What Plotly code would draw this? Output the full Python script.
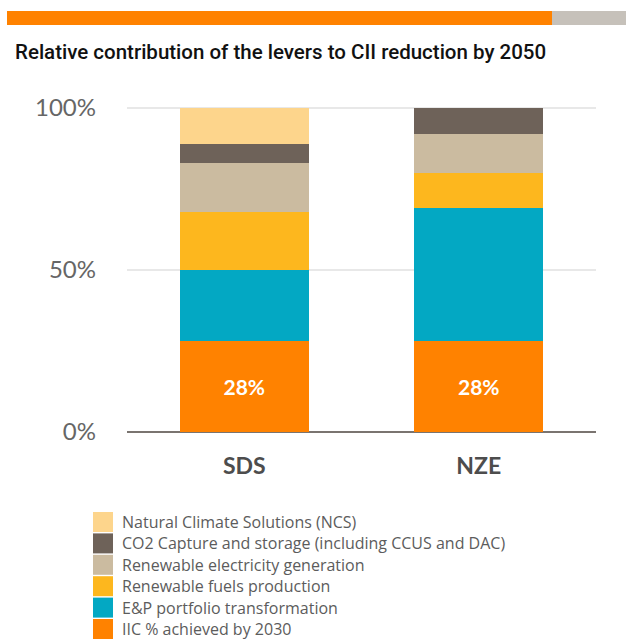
import plotly.graph_objects as go

W, H = 626, 641
categories = ["SDS", "NZE"]
series_names = [
    "IIC % achieved by 2030",
    "E&P portfolio transformation",
    "Renewable fuels production",
    "Renewable electricity generation",
    "CO2 Capture and storage (including CCUS and DAC)",
    "Natural Climate Solutions (NCS)",
]
series_values = [
    [28, 28],
    [22, 41],
    [18, 11],
    [15, 12],
    [6, 8],
    [11, 0],
]
series_colors = ["#FF8200", "#03A8C3", "#FDB71E", "#CBBBA0", "#6E6259", "#FDD58C"]
bar_labels = ["28%", "28%"]
y_tickvals = [0, 50, 100]
y_ticktext = ["0%", "50%", "100%"]

ML, MR, MT, MB = 127, 30, 106, 209
PW = W - ML - MR
PH = H - MT - MB


def px2x(x):
    return (x - ML) / PW


def px2y(y):
    return (H - MB - y) / PH


fig = go.Figure()
for i, (name, vals, col) in enumerate(zip(series_names, series_values, series_colors)):
    kw = {}
    if i == 0:
        kw = dict(text=bar_labels, textposition="inside", insidetextanchor="middle",
                  textangle=0,
                  textfont=dict(family="Lato, sans-serif", size=21, color="white", weight="bold"))
    fig.add_trace(go.Bar(x=categories, y=vals, name=name, marker=dict(color=col, line=dict(width=0)),
                         width=0.55, hoverinfo="skip", **kw))

shapes = []
annotations = []
# top decorative band
for x0, x1, col in [(7, 552, "#FF8200"), (552, 626, "#C6C1BA")]:
    shapes.append(dict(type="rect", xref="paper", yref="paper", x0=px2x(x0), x1=px2x(x1),
                       y0=px2y(25), y1=px2y(11), fillcolor=col, line=dict(width=0)))

# legend (top to bottom = reversed stacking order)
LEG_TOP, LEG_STEP, SQ = 512, 21.4, 20
for k, (name, col) in enumerate(zip(series_names[::-1], series_colors[::-1])):
    top = LEG_TOP + k * LEG_STEP
    shapes.append(dict(type="rect", xref="paper", yref="paper", x0=px2x(93), x1=px2x(93 + SQ),
                       y0=px2y(top + SQ), y1=px2y(top), fillcolor=col, line=dict(width=0)))
    annotations.append(dict(text=name, xref="paper", yref="paper", x=px2x(120), y=px2y(top + SQ / 2),
                            xanchor="left", yanchor="middle", showarrow=False,
                            font=dict(family="Open Sans, sans-serif", size=16, color="#5c5c5c")))

fig.update_layout(
    width=W, height=H,
    margin=dict(l=ML, r=MR, t=MT, b=MB, autoexpand=False),
    paper_bgcolor="white", plot_bgcolor="white",
    barmode="stack",
    showlegend=False,
    font=dict(family="Lato, sans-serif", color="#555"),
    title=dict(text="Relative contribution of the levers to CII reduction by 2050",
               x=15 / W, xanchor="left", xref="container", y=1 - 52 / H, yanchor="middle",
               yref="container",
               font=dict(family="Roboto, sans-serif", size=20.5, color="#111", weight=500)),
    xaxis=dict(showgrid=False, showline=False, ticks="", ticklabelstandoff=18,
               tickfont=dict(size=23, color="#4d4d4d", weight="bold"), range=[-0.5, 1.5]),
    yaxis=dict(range=[0, 100.6], tickvals=y_tickvals, ticktext=y_ticktext,
               showgrid=True, gridcolor="#E8E8E8", gridwidth=2,
               zeroline=True, zerolinecolor="#7a7470", zerolinewidth=2,
               ticklabelstandoff=30, tickfont=dict(size=24, color="#666")),
    shapes=shapes,
    annotations=annotations,
)
fig.write_html("out.html", config={"displayModeBar": False},
               post_script="document.body.style.margin='0';")
